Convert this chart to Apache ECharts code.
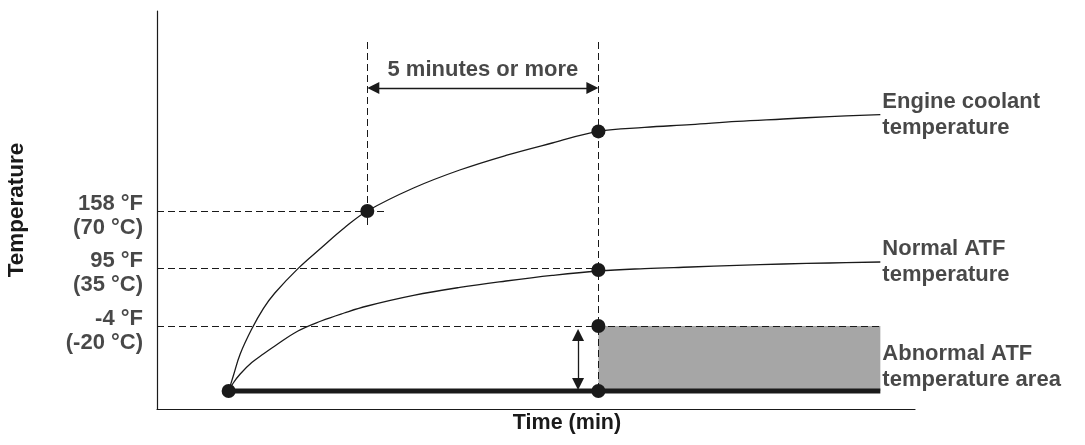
<!DOCTYPE html>
<html>
<head>
<meta charset="utf-8">
<script src="https://cdn.jsdelivr.net/npm/echarts@6/dist/echarts.min.js"></script>
<style>
html,body{margin:0;padding:0;background:#fff;}
#chart{width:1085px;height:445px;}
</style>
</head>
<body>
<div id="chart"></div>
<script>
// ---- data (schematic: time in minutes, temperature as relative level) ----
const coolantTime = [0, 0.1, 0.25, 0.5, 0.75, 1, 1.5, 2, 2.5, 3, 4, 5, 6, 7, 8, 9, 10, 11, 12, 13, 14.1];
const coolantTemp = [0, 3.75, 9.25, 15.5, 20.6, 24.5, 30.6, 35.75, 40.75, 45, 50.75, 55.25, 58.9, 62, 64.9, 65.9, 66.6, 67.4, 68, 68.6, 69.1];
const atfTime = [0, 0.1, 0.25, 0.5, 0.75, 1, 1.5, 2, 2.5, 3, 4, 5, 6, 7, 8, 9, 10, 11, 12, 13, 14.1];
const atfTemp = [0, 2, 4.25, 7.1, 9.25, 11.25, 15, 17.5, 19.5, 21.25, 23.9, 25.9, 27.5, 28.9, 30, 30.6, 31, 31.4, 31.75, 32, 32.25];
const levelLabels = ['158 °F\n(70 °C)', '95 °F\n(35 °C)', '-4 °F\n(-20 °C)'];
const levelValues = [45, 30.75, 16.25];
const levelGuideEnd = [3.4, 8, 14.1];
const timeStart = 0, timeT1 = 3, timeT2 = 8, timeEnd = 14.1;
const guideTop = 87.25, guideT1Bottom = 41.5;
const spanArrowLevel = 75.75;
const spanText = '5 minutes or more';
const markerPoints = [[0, 0], [3, 45], [8, 64.9], [8, 30.25], [8, 16.25], [8, 0]];
const seriesLabels = ['Engine coolant\ntemperature', 'Normal ATF\ntemperature', 'Abnormal ATF\ntemperature area'];
const seriesLabelLevels = [69.1, 32.25, 6];
const xTitle = 'Time (min)', yTitle = 'Temperature';

const X_MIN = -1.55, X_MAX = 14.85, Y_MIN = -4.5, Y_MAX = 95;
const INK = '#1a1a1a';
const FONT = "'Liberation Sans', Arial, Helvetica, sans-serif";

const zip = (a, b) => a.map((v, i) => [v, b[i]]);

const dashStyle = { color: INK, width: 1, type: [7, 4] };
const guideSegments = [];
levelValues.forEach((v, i) => guideSegments.push([{ coord: [X_MIN, v] }, { coord: [levelGuideEnd[i], v] }]));
guideSegments.push([{ coord: [timeT1, guideTop] }, { coord: [timeT1, guideT1Bottom] }]);
guideSegments.push([{ coord: [timeT2, guideTop] }, { coord: [timeT2, 0] }]);

// arrowhead symbols are centred on the line ends; pull the ends in by half a head
const headX = 0.13, headY = 1.5;

const chart = echarts.init(document.getElementById('chart'), null, { renderer: 'canvas' });
chart.setOption({
  animation: false,
  backgroundColor: '#fff',
  grid: { left: 157, right: 170, top: 11, bottom: 36, containLabel: false, outerBoundsMode: 'none' },
  xAxis: {
    type: 'value', min: X_MIN, max: X_MAX,
    axisLine: { show: true, onZero: false, lineStyle: { color: INK, width: 1.2 } },
    axisTick: { show: false }, axisLabel: { show: false }, splitLine: { show: false },
    name: xTitle, nameLocation: 'middle', nameGap: 3,
    nameTextStyle: { fontFamily: FONT, fontWeight: 'bold', fontSize: 21.5, color: INK, padding: [0, 0, 0, 62] }
  },
  yAxis: {
    type: 'value', min: Y_MIN, max: Y_MAX,
    axisLine: { show: true, onZero: false, lineStyle: { color: INK, width: 1.2 } },
    axisTick: { show: false }, axisLabel: { show: false }, splitLine: { show: false },
    name: yTitle, nameLocation: 'middle', nameRotate: 90, nameGap: 129,
    nameTextStyle: { fontFamily: FONT, fontWeight: 'bold', fontSize: 22.5, color: INK }
  },
  series: [
    {
      type: 'line', name: 'baseline', data: [[timeStart, 0], [timeEnd, 0]],
      symbol: 'none', lineStyle: { color: INK, width: 5 }, z: 4, silent: true,
      markArea: {
        silent: true,
        itemStyle: { color: '#a6a6a6', opacity: 1 },
        data: [[{ coord: [timeT2, 0] }, { coord: [timeEnd, levelValues[2]] }]]
      }
    },
    {
      type: 'line', name: 'guides', data: [], z: 3, silent: true,
      markLine: { silent: true, symbol: 'none', label: { show: false }, lineStyle: dashStyle, data: guideSegments }
    },
    {
      type: 'line', name: 'arrows', data: [], z: 5, silent: true,
      markLine: {
        silent: true, symbol: ['triangle', 'triangle'], symbolSize: 12, label: { show: false },
        lineStyle: { color: INK, width: 1.3, type: 'solid' }, itemStyle: { color: INK },
        data: [
          [{ coord: [timeT1 + headX, spanArrowLevel] }, { coord: [timeT2 - headX, spanArrowLevel] }],
          [{ coord: [7.56, 15.5 - headY] }, { coord: [7.56, 0.25 + headY] }]
        ]
      }
    },
    {
      type: 'line', name: 'Engine coolant temperature', data: zip(coolantTime, coolantTemp),
      symbol: 'none', smooth: 0.4, lineStyle: { color: INK, width: 1.3 }, z: 5, silent: true
    },
    {
      type: 'line', name: 'Normal ATF temperature', data: zip(atfTime, atfTemp),
      symbol: 'none', smooth: 0.4, lineStyle: { color: INK, width: 1.3 }, z: 5, silent: true
    },
    {
      type: 'scatter', name: 'markers', data: markerPoints, symbol: 'circle', symbolSize: 14,
      itemStyle: { color: INK, opacity: 1 }, z: 6, silent: true
    },
    {
      type: 'scatter', name: 'levelLabels', clip: false, symbolSize: 0, silent: true,
      data: levelValues.map((v, i) => ({ value: [X_MIN, v], label: { formatter: levelLabels[i] } })),
      label: {
        show: true, position: 'left', distance: 14, offset: [0, 5], align: 'right',
        fontFamily: FONT, fontWeight: 'bold', fontSize: 22, lineHeight: 24, color: INK
      }
    },
    {
      type: 'scatter', name: 'seriesLabels', clip: false, symbolSize: 0, silent: true,
      data: seriesLabelLevels.map((v, i) => ({ value: [timeEnd, v], label: { formatter: seriesLabels[i] } })),
      label: {
        show: true, position: 'right', distance: 2, align: 'left',
        fontFamily: FONT, fontWeight: 'bold', fontSize: 22, lineHeight: 26, color: INK
      }
    },
    {
      type: 'scatter', name: 'spanLabel', clip: false, symbolSize: 0, silent: true,
      data: [{ value: [(timeT1 + timeT2) / 2, 80.25], label: { formatter: spanText } }],
      label: {
        show: true, position: 'inside',
        fontFamily: FONT, fontWeight: 'bold', fontSize: 22, color: INK
      }
    }
  ]
});
</script>
</body>
</html>
